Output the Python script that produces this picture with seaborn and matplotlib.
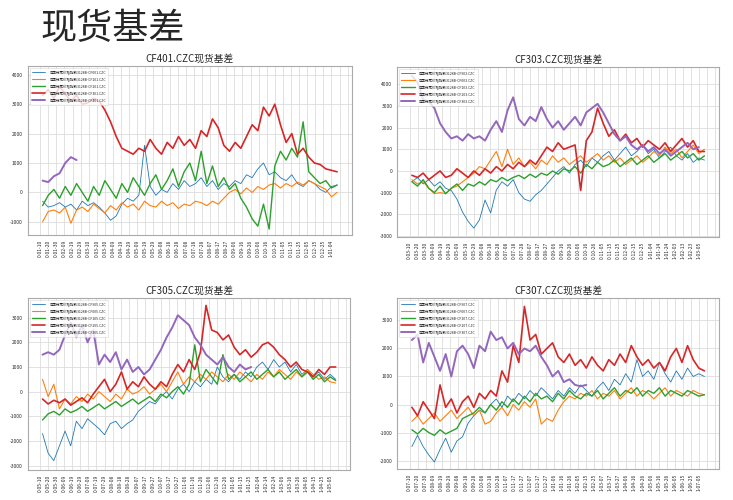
import matplotlib
matplotlib.use('Agg')
import matplotlib.pyplot as plt
import seaborn as sns
import pandas as pd
import numpy as np

# weekly samples of the basis (spot index minus futures), one list per contract
N = None

cf401_start = '2020-01-13'
cf401_tick0 = '2020-01-10'
cf401_names = ['CF001', 'CF101', 'CF201', 'CF301', 'CF401']
cf401_s1 = [-300, -500, -450, -350, -500, -400, -600, -300, -450, -350, -500, -700, -950, -800, -400, -200,
            -300, -100, 1600, 200, -100, 100, 0, 300, 100, 400, 200, 300, 500, 200, 400, 100, 300, 200, 400,
            300, 600, 500, 800, 1000, 600, 700, 500, 400, 600, 300, 200, 400, 300, 100, 0, 200, 250]
cf401_s2 = [-1000, -650, -600, -700, -500, -1050, -600, -500, -650, -400, -550, -700, -450, -600, -350, -500,
            -400, -600, -300, -450, -500, -300, -450, -350, -550, -400, -450, -300, -350, -450, -300, -400,
            -200, 0, 100, -50, 150, 0, 200, 100, 250, 300, 150, 300, 200, 350, 250, 400, 300, 200, 100, -150, 0]
cf401_s3 = [-450, -100, 100, -200, 200, -100, 300, 0, -300, 200, -100, 400, 100, -200, 300, 0, 500, 200,
            -100, 300, 600, 100, 400, 800, 200, 700, 1000, 400, 1400, 300, 900, 200, 500, 100, 300, -200,
            -500, -900, -1150, -400, -1250, 900, 1400, 1100, 1500, 1200, 2400, 700, 500, 300, 400, 150, 250]
cf401_s4 = [3300, 3500, 3200, 3600, 3350, 3100, 3300, 3000, 3050, 3200, 3100, 2800, 2400, 1900, 1500, 1400,
            1300, 1500, 1400, 1800, 1500, 1300, 1700, 1500, 1900, 1600, 1800, 1500, 2100, 1900, 2500, 2200,
            1600, 1400, 1700, 1500, 1900, 2300, 2100, 2900, 2600, 3000, 2300, 1700, 2000, 1300, 1500, 1200,
            1000, 950, 800, 750, 700]
cf401_s5 = [400, 350, 550, 650, 1000, 1200, 1100] + [N] * 46

cf303_start = '2020-03-13'
cf303_tick0 = '2020-03-10'
cf303_names = ['CF903', 'CF003', 'CF103', 'CF203', 'CF303']
cf303_s1 = [-500, -300, -600, -400, -700, -500, -800, -900, -1300, -1900, -2330, -2640, -2260, -1340, -1940,
            -880, -500, -700, -400, -1000, -1300, -1400, -1100, -900, -600, -300, 0, 200, -100, 300, 500, 200,
            600, 400, 700, 900, 500, 800, 1100, 700, 900, 1200, 800, 1000, 600, 900, 1100, 700, 500, 800, 400,
            600, 500]
cf303_s2 = [-400, -600, -500, -800, -1050, -1000, -1050, -800, -700, -500, -300, -100, 200, 100, 500, 900,
            200, 1000, 300, 600, 200, 400, 100, 500, 300, 700, 400, 600, 300, 500, 700, 400, 600, 800, 500,
            700, 400, 600, 300, 500, 700, 400, 600, 900, 700, 1100, 800, 1000, 600, 900, 1200, 800, 1000]
cf303_s3 = [-500, -700, -400, -800, -1000, -700, -1050, -800, -600, -900, -600, -700, -500, -650, -400, -500,
            -300, -450, -300, -200, -350, -150, -300, -100, -200, 0, -150, 100, 0, 200, -100, 300, 100, 400,
            200, 300, 500, 200, 400, 600, 300, 500, 700, 400, 600, 800, 500, 700, 900, 600, 800, 500, 700]
cf303_s4 = [-200, -300, -100, -400, -200, 0, -300, -200, 100, -100, -300, 0, -200, 100, -100, 200, 0, 300,
            100, 400, 200, 500, 300, 700, 1100, 900, 1300, 1000, 1100, 1200, -900, 1400, 1800, 2900, 2200,
            1600, 1900, 1400, 1700, 1300, 1500, 1100, 1400, 1200, 1000, 1300, 900, 1200, 1500, 1100, 1400,
            900, 900]
cf303_s5 = [4400, 4100, 3300, 3200, 2900, 2200, 1800, 1500, 1600, 1400, 1700, 1500, 1600, 1400, 1900, 2300,
            1800, 2800, 3400, 2400, 2100, 2500, 2300, 2950, 2400, 2000, 2300, 1900, 2200, 2500, 2100, 2700,
            2900, 3100, 2700, 2200, 1700, 1400, 1600, 1200, 1000, 1200, 900, 1100, 800, 1000, 700, 900, 1100,
            1300, 1000, 1100, N]

cf305_start = '2020-05-13'
cf305_tick0 = '2020-05-10'
cf305_names = ['CF905', 'CF005', 'CF105', 'CF205', 'CF305']
cf305_s1 = [-1700, -2500, -2800, -2200, -1600, -2200, -1200, -1500, -1100, -1300, -1500, -1750, -1300, -1200,
            -1500, -1300, -1150, -800, -600, -400, -500, -200, 0, -300, 100, 300, 0, 400, 200, 500, 300, 1000,
            600, 400, 700, 500, 800, 600, 1000, 1200, 900, 1300, 1000, 1200, 800, 1100, 700, 900, 600, 800,
            500, 700, 500]
cf305_s2 = [500, -200, 300, -700, -300, -500, -200, -400, -100, -300, 0, -200, -400, -100, -300, 100, -100,
            0, 200, -100, 100, 300, 0, 400, 800, 300, 600, 400, 700, 500, 800, 600, 400, 700, 500, 800, 600,
            400, 700, 500, 800, 600, 900, 700, 500, 800, 600, 900, 700, 500, 600, 400, 350]
cf305_s3 = [-1150, -900, -800, -950, -700, -850, -750, -600, -800, -650, -500, -700, -550, -400, -600, -450,
            -300, -500, -350, -200, -400, -100, -250, 0, 200, -100, 300, 1900, 400, 900, 600, 300, 1500, 500,
            700, 400, 600, 800, 500, 700, 900, 600, 800, 500, 700, 900, 600, 800, 500, 700, 400, 600, 450]
cf305_s4 = [-300, -500, -350, -450, -300, -550, -400, -250, -450, -100, 200, 500, 0, 300, 800, 100, 400, 200,
            600, 300, 100, 400, 200, 700, 1100, 800, 1300, 900, 1600, 3500, 2500, 2400, 2100, 2300, 1800, 1500,
            1700, 1400, 1600, 1900, 2000, 1800, 1500, 1300, 1000, 1200, 900, 800, 600, 900, 700, 1000, 1000]
cf305_s5 = [1500, 1600, 1500, 1700, 2300, 2800, 2200, 2700, 2000, 2500, 1100, 1500, 1200, 1600, 900, 1300,
            800, 1000, 700, 900, 1300, 1700, 2200, 2600, 3100, 2900, 2700, 2200, 1900, 1500, 1300, 1100, 1400,
            1000, 800, 1100, 900, 1000] + [N] * 15

cf307_start = '2020-07-13'
cf307_tick0 = '2020-07-10'
cf307_names = ['CF907', 'CF007', 'CF107', 'CF207', 'CF307']
cf307_s1 = [-1500, -1100, -1500, -1800, -2050, -1600, -1200, -1700, -1300, -1150, -660, -400, -200, -300, 0,
            200, -100, 300, 100, 400, 200, 500, 300, 600, 400, 200, 500, 300, 600, 400, 700, 500, 300, 600,
            800, 500, 900, 700, 1100, 800, 1600, 1000, 1200, 900, 1500, 1100, 800, 1200, 900, 1300, 1000,
            1100, 1000]
cf307_s2 = [-600, -400, -700, -500, -300, -600, -400, -200, -500, -300, -100, -400, -200, -700, -600, -300,
            -100, -400, 0, -200, 100, -100, 200, -700, -500, -600, -200, 100, 300, 200, 400, 300, 500, 200,
            400, 300, 500, 200, 400, 600, 300, 500, 400, 200, 400, 600, 300, 500, 400, 300, 500, 400, 350]
cf307_s3 = [-900, -1050, -850, -1000, -1100, -900, -1050, -950, -850, -500, -400, -300, -100, -300, 0, -200,
            100, -100, 200, 0, 300, 100, 400, 200, 300, 100, 400, 200, 500, 300, 200, 400, 300, 500, 200, 400,
            600, 300, 500, 400, 600, 300, 500, 400, 600, 300, 500, 400, 300, 500, 400, 300, 350]
cf307_s4 = [-100, -400, 100, -200, -500, 700, -100, 200, -300, 100, 300, -100, 400, 200, 500, 300, 1200, 800,
            2100, 1500, 3500, 2300, 2500, 1800, 2000, 2200, 1700, 1500, 1800, 1400, 1600, 1300, 1700, 1400,
            1200, 1600, 1400, 1800, 1500, 2100, 1700, 1400, 1600, 1300, 1500, 1200, 1700, 2000, 1500, 2100,
            1600, 1300, 1200]
cf307_s5 = [2300, 2500, 1500, 2200, 1700, 1200, 1800, 1000, 1900, 2100, 1800, 1300, 2100, 1900, 2600, 2300,
            2400, 2000, 2200, 1800, 2000, 1900, 2100, 1700, 1400, 1000, 1200, 800, 900, 700, 650, 700] + [N] * 21

colors = ['#1f77b4', '#ff7f0e', '#2ca02c', '#d62728', '#9467bd']
widths = [0.6, 0.8, 1.0, 1.2, 1.4]

panels = [
    ('CF401', cf401_start, cf401_tick0, cf401_names, [cf401_s1, cf401_s2, cf401_s3, cf401_s4, cf401_s5], (-1450, 4300)),
    ('CF303', cf303_start, cf303_tick0, cf303_names, [cf303_s1, cf303_s2, cf303_s3, cf303_s4, cf303_s5], (-3050, 4800)),
    ('CF305', cf305_start, cf305_tick0, cf305_names, [cf305_s1, cf305_s2, cf305_s3, cf305_s4, cf305_s5], (-3180, 3800)),
    ('CF307', cf307_start, cf307_tick0, cf307_names, [cf307_s1, cf307_s2, cf307_s3, cf307_s4, cf307_s5], (-2300, 3800)),
]

rects = [[0.038, 0.530, 0.442, 0.338],
         [0.542, 0.526, 0.439, 0.340],
         [0.038, 0.060, 0.440, 0.344],
         [0.542, 0.062, 0.439, 0.342]]

sns.set_style('whitegrid')
plt.rcParams['font.family'] = ['Noto Sans CJK SC', 'DejaVu Sans']
plt.rcParams['axes.unicode_minus'] = False

fig = plt.figure(figsize=(7.33, 5.0), dpi=100)
fig.text(0.055, 0.978, '现货基差', fontsize=26, va='top', ha='left')

for (code, start, tick0, names, series, ylim), rect in zip(panels, rects):
    ax = fig.add_axes(rect)
    dates = pd.date_range(start, periods=len(series[0]), freq='7D')
    for vals, name, c, lw in zip(series, names, colors, widths):
        df = pd.DataFrame({'date': dates, 'basis': np.array(vals, dtype=float)}).dropna()
        sns.lineplot(data=df, x='date', y='basis', ax=ax, color=c, linewidth=lw,
                     label='中国棉花价格指数3128B-' + name + '.CZC')
    ax.set_ylim(ylim)
    lo, hi = ax.get_xlim()
    ticks = pd.date_range(tick0, periods=40, freq='10D')
    last = dates[-1]
    ax.set_xticks(ticks)
    ax.set_xticklabels([t.strftime('%Y-%m-%d')[3:] if t <= last else '' for t in ticks], rotation=90)
    ax.set_xlim(lo, hi)
    ax.set_xlabel('')
    ax.set_ylabel('')
    ax.set_title(code + '.CZC现货基差', fontsize=7, pad=3)
    ax.tick_params(axis='both', labelsize=3.5, length=2, width=0.4, pad=1.5)
    ax.grid(True, color='#dddddd', linewidth=0.6)
    for sp in ax.spines.values():
        sp.set_color('#aaaaaa')
        sp.set_linewidth(0.8)
    leg = ax.legend(loc='upper left', fontsize=2.5, handlelength=3.8, frameon=True,
                    borderpad=0.7, labelspacing=0.9, handletextpad=1.2)
    leg.get_frame().set_linewidth(0.4)

fig.savefig('out.png', dpi=100)
